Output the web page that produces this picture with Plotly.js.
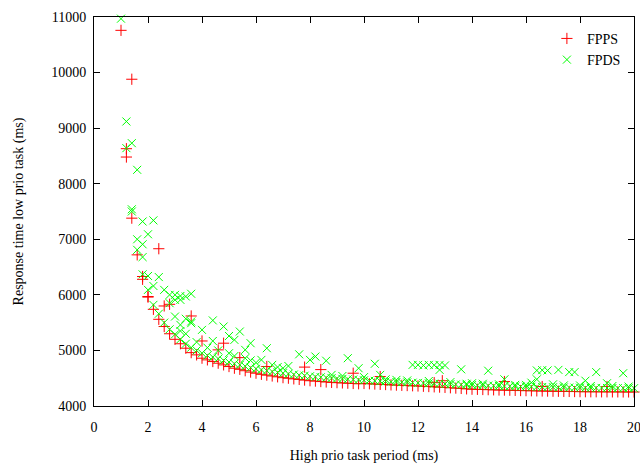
<!DOCTYPE html>
<html>
<head>
<meta charset="utf-8">
<script src="https://cdn.plot.ly/plotly-3.0.1.min.js"></script>
<style>html,body{margin:0;padding:0;background:#fff;}#chart{width:640px;height:467px;}</style>
</head>
<body>
<div id="chart"></div>
<script>
// High prio task period (ms), main sweep
var periods = [1.0,1.2,1.4,1.6,1.8,2.0,2.2,2.4,2.6,2.8,3.0,3.2,3.4,3.6,3.8,4.0,4.2,4.4,4.6,4.8,
  5.0,5.2,5.4,5.6,5.8,6.0,6.2,6.4,6.6,6.8,7.0,7.2,7.4,7.6,7.8,8.0,8.2,8.4,8.6,8.8,
  9.0,9.2,9.4,9.6,9.8,10.0,10.2,10.4,10.6,10.8,11.0,11.2,11.4,11.6,11.8,12.0,12.2,12.4,12.6,12.8,
  13.0,13.2,13.4,13.6,13.8,14.0,14.2,14.4,14.6,14.8,15.0,15.2,15.4,15.6,15.8,16.0,16.2,16.4,16.6,16.8,
  17.0,17.2,17.4,17.6,17.8,18.0,18.2,18.4,18.6,18.8,19.0,19.2,19.4,19.6,19.8,20.0];

// FPPS response time (ms), main curve
var fppsMain = [10760,8480,7380,6720,6280,5970,5740,5560,5430,5300,5200,5120,5040,4960,4920,4860,4830,4800,4770,4740,
  4710,4680,4660,4635,4610,4590,4570,4555,4540,4525,4510,4500,4488,4478,4466,4455,4448,4440,4432,4425,
  4420,4415,4410,4405,4400,4405,4400,4395,4390,4386,4380,4376,4372,4368,4364,4360,4355,4350,4345,4340,
  4335,4328,4322,4316,4308,4302,4300,4297,4294,4291,4288,4286,4284,4281,4278,4276,4274,4272,4270,4268,
  4266,4265,4263,4262,4260,4258,4257,4256,4256,4255,4255,4254,4254,4253,4253,4252];

// FPDS response time (ms), main curve
var fpdsMain = [10970,8640,7500,6810,6370,6090,5820,5660,5500,5380,5290,5200,5120,5050,5000,4950,4910,4880,4850,4820,
  4790,4760,4740,4715,4690,4670,4650,4635,4620,4605,4590,4578,4566,4555,4545,4535,4525,4517,4510,4502,
  4495,4488,4482,4476,4470,4462,4457,4452,4447,4442,4437,4432,4428,4424,4420,4416,4412,4408,4404,4400,
  4396,4392,4388,4384,4380,4376,4373,4370,4367,4364,4361,4358,4355,4352,4350,4348,4346,4344,4342,4340,
  4338,4336,4334,4332,4330,4329,4328,4327,4326,4325,4324,4323,4322,4321,4320,4320];

// FPPS additional runs (outliers)
var fppsExtraX = [1.2,1.4,1.8,2.0,2.4,2.6,2.8,3.6,4.0,4.6,4.8,5.4,6.4,7.8,8.4,9.6,10.6,12.6,12.9,15.2,16.6,19.0];
var fppsExtraY = [8630,9880,6330,5960,6830,5800,5830,5620,5170,5010,5130,4870,4710,4700,4655,4590,4530,4420,4455,4440,4350,4350];

// FPDS additional runs (outliers)
var fpdsExtraX = [1.2,1.4,1.6,1.4,1.8,2.2,2.0,1.6,1.8,1.8,2.0,2.4,2.2,2.6,2.8,3.0,3.2,3.0,3.2,3.4,3.6,
  3.4,3.6,3.0,2.8,3.2,3.6,4.0,4.4,4.8,5.4,4.4,5.0,5.2,5.8,6.4,5.6,7.6,8.0,6.2,6.6,8.2,8.6,9.4,9.8,
  10.4,10.6,11.8,12.0,12.2,12.4,12.6,12.8,13.0,12.8,13.6,14.6,15.2,16.4,16.6,16.8,17.2,17.6,17.8,18.2,18.6,19.0,19.6,16.4,
  6.0,6.8,7.0,7.2,5.8,5.6,5.2,5.0,4.6,4.2,3.8,3.4,3.2,
  8.8,9.2,10.0,10.8,11.2,11.6,12.4,13.2,13.8,14.0,14.4,15.0,15.6,16.0,16.2,17.0,17.4,18.0,18.4,19.2,19.8];
var fpdsExtraY = [9120,8730,8250,7540,7320,7340,7090,7000,6910,6680,6340,6320,6160,6090,6000,6000,5980,5910,5910,5970,6020,
  5570,5490,5610,5850,5460,5520,5370,5540,5430,5340,5170,5260,5190,5130,5040,5010,4930,4830,4830,4740,4890,4815,4860,4680,
  4760,4560,4740,4740,4730,4740,4735,4740,4730,4650,4660,4635,4480,4640,4645,4640,4650,4610,4610,4455,4610,4410,4590,4480,
  4780,4700,4680,4720,4820,4860,4900,4950,5000,5050,5150,5300,5350,
  4560,4540,4520,4480,4470,4460,4450,4430,4400,4410,4400,4390,4380,4380,4420,4390,4370,4370,4360,4360,4350];

var xTicks = [0,2,4,6,8,10,12,14,16,18,20];
var yTicks = [4000,5000,6000,7000,8000,9000,10000,11000];

var redC = '#ff0000', greenC = '#00ff00';
var serif = 'Liberation Serif, Times New Roman, serif';

var fppsX = periods.concat(fppsExtraX), fppsY = fppsMain.concat(fppsExtraY);
var fpdsX = periods.concat(fpdsExtraX), fpdsY = fpdsMain.concat(fpdsExtraY);

var traces = [
  {x: fppsX, y: fppsY, type: 'scatter', mode: 'markers', name: 'FPPS', cliponaxis: false,
   marker: {symbol: 'cross-thin', size: 8, color: redC, line: {color: redC, width: 1}}},
  {x: fpdsX, y: fpdsY, type: 'scatter', mode: 'markers', name: 'FPDS', cliponaxis: false,
   marker: {symbol: 'x-thin', size: 8, color: greenC, line: {color: greenC, width: 1}}}
];

var axisCommon = {
  showgrid: false, zeroline: false, showline: true, linecolor: '#000', linewidth: 1,
  mirror: 'ticks', ticks: 'inside', ticklen: 6, tickcolor: '#000', tickwidth: 1,
  tickfont: {family: serif, size: 14, color: '#000'}, tickformat: 'd', ticklabeloverflow: 'allow'
};

var layout = {
  width: 640, height: 467,
  margin: {l: 94, r: 6, t: 17, b: 61},
  paper_bgcolor: '#fff', plot_bgcolor: '#fff',
  font: {family: serif, size: 14, color: '#000'},
  xaxis: Object.assign({}, axisCommon, {range: [0, 20], tickmode: 'array', tickvals: xTicks,
    ticklabelstandoff: 8,
    title: {text: 'High prio task period (ms)', standoff: 16, font: {family: serif, size: 14}}}),
  yaxis: Object.assign({}, axisCommon, {range: [4000, 11000], tickmode: 'array', tickvals: yTicks,
    ticklabelstandoff: 4,
    title: {text: 'Response time low prio task (ms)', standoff: 24, font: {family: serif, size: 14}}}),
  showlegend: true,
  legend: {x: 0.985, y: 0.985, xanchor: 'right', yanchor: 'top', bgcolor: 'rgba(0,0,0,0)',
    font: {family: serif, size: 14}, itemwidth: 30, tracegroupgap: 0}
};

Plotly.newPlot('chart', traces, layout, {displayModeBar: false, staticPlot: true});
</script>
</body>
</html>
